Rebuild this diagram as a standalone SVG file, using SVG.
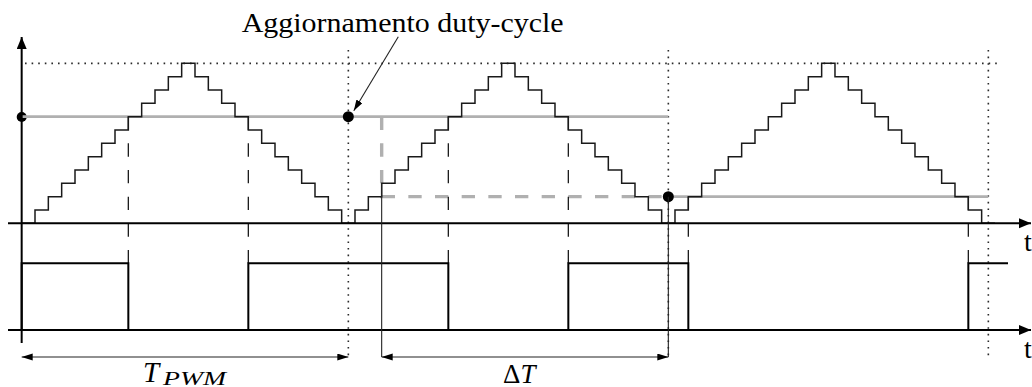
<svg xmlns="http://www.w3.org/2000/svg" width="1032" height="387" viewBox="0 0 1032 387">
<style>
.dot{stroke:#2a2a2a;stroke-width:1.6;stroke-dasharray:1.6 5;fill:none}
.gray{stroke:#b0b0b0;stroke-width:2.6;fill:none}
.graydash{stroke:#b0b0b0;stroke-width:3.4;fill:none;stroke-dasharray:13.333 13.333}
.stair{stroke:#1a1a1a;stroke-width:1.5;fill:none}
.dash{stroke:#1a1a1a;stroke-width:1.3;fill:none;stroke-dasharray:13.333 13.333}
.axis{stroke:#000;stroke-width:2;fill:none}
.pwm{stroke:#000;stroke-width:2;fill:none}
.thin{stroke:#222;stroke-width:1.1;fill:none}
.txt{font-family:"Liberation Serif","Times New Roman",serif;fill:#000}
</style>
<defs>
<marker id="ax" markerUnits="userSpaceOnUse" markerWidth="14" markerHeight="12" refX="12" refY="5" orient="auto"><path d="M0,0 L12,5 L0,10 Z" fill="#000"/></marker>
<marker id="dim" markerUnits="userSpaceOnUse" markerWidth="12" markerHeight="8" refX="11" refY="3.5" orient="auto-start-reverse"><path d="M0,0 L11,3.5 L0,7 Z" fill="#000"/></marker>
</defs>

<g id="guides">
<path class="dot" d="M25,63.33 H1000"/>
<path class="dot" d="M348.33,50 V357"/>
<path class="dot" d="M668.33,50 V357"/>
<path class="dot" d="M988.33,50 V357"/>
</g>

<circle id="dot-axis" cx="21.7" cy="117" r="5" fill="#000"/>

<g id="compare">
<path class="gray" d="M22,116.67 H668.33"/>
<path class="graydash" d="M381.67,116.67 V196.67 H668.33"/>
<path class="gray" d="M668.33,196.67 H988.33"/>
</g>

<g id="staircase">
<path class="stair" d="M21.67,223.33 h13.333
v-13.333h13.333v-13.333h13.333v-13.333h13.333v-13.333h13.333v-13.333h13.333v-13.333h13.333v-13.333h13.333v-13.333h13.333v-13.333h13.333v-13.333h13.333v-13.333h13.333v-13.333h13.333
v13.333h13.333v13.333h13.333v13.333h13.333v13.333h13.333v13.333h13.333v13.333h13.333v13.333h13.333v13.333h13.333v13.333h13.333v13.333h13.333v13.333h13.333v13.333h13.333
v-13.333h13.333v-13.333h13.333v-13.333h13.333v-13.333h13.333v-13.333h13.333v-13.333h13.333v-13.333h13.333v-13.333h13.333v-13.333h13.333v-13.333h13.333v-13.333h13.333v-13.333h13.333
v13.333h13.333v13.333h13.333v13.333h13.333v13.333h13.333v13.333h13.333v13.333h13.333v13.333h13.333v13.333h13.333v13.333h13.333v13.333h13.333v13.333h13.333v13.333h13.333
v-13.333h13.333v-13.333h13.333v-13.333h13.333v-13.333h13.333v-13.333h13.333v-13.333h13.333v-13.333h13.333v-13.333h13.333v-13.333h13.333v-13.333h13.333v-13.333h13.333v-13.333h13.333
v13.333h13.333v13.333h13.333v13.333h13.333v13.333h13.333v13.333h13.333v13.333h13.333v13.333h13.333v13.333h13.333v13.333h13.333v13.333h13.333v13.333h13.333v13.333h13.333"/>
</g>

<g id="edges">
<path class="dash" d="M128.33,116.67 V263.33"/>
<path class="dash" d="M248.33,116.67 V263.33"/>
<path class="dash" d="M448.33,116.67 V263.33"/>
<path class="dash" d="M568.33,116.67 V263.33"/>
<path class="dash" d="M688.33,196.67 V263.33"/>
<path class="dash" d="M968.33,196.67 V263.33"/>
</g>

<g id="axes">
<path class="axis" d="M8,223.33 H1031" marker-end="url(#ax)"/>
<path class="axis" d="M8,330 H1031" marker-end="url(#ax)"/>
<path class="axis" d="M21.67,343 V37" marker-end="url(#ax)"/>
</g>

<g id="pwm">
<path class="pwm" d="M21.67,330 V263.33 H128.33 V330 H248.33 V263.33 H448.33 V330 H568.33 V263.33 H688.33 V330 H968.33 V263.33 H1008"/>
</g>

<g id="markers">
<circle cx="348.33" cy="116.67" r="5.5" fill="#000"/>
<circle cx="668.33" cy="196.67" r="5.5" fill="#000"/>
</g>

<g id="connectors">
<path class="thin" d="M398.3,36.7 L353.8,110.8" marker-end="url(#dim)"/>
<path class="thin" d="M381.67,183.33 V357"/>
<path class="thin" d="M668.33,196.67 V357"/>
<path class="thin" d="M21.67,357 H348.33" marker-start="url(#dim)" marker-end="url(#dim)"/>
<path class="thin" d="M381.67,357 H668.33" marker-start="url(#dim)" marker-end="url(#dim)"/>
</g>

<g id="labels">
<text class="txt" x="241.7" y="31.5" font-size="27" textLength="322" lengthAdjust="spacingAndGlyphs">Aggiornamento duty-cycle</text>
<text class="txt" x="1024" y="251" font-size="28">t</text>
<text class="txt" x="1024" y="358" font-size="28">t</text>
<text class="txt" x="143" y="382" font-size="29" font-style="italic">T</text>
<text class="txt" x="163" y="385" font-size="19" font-style="italic" textLength="63" lengthAdjust="spacingAndGlyphs">PWM</text>
<text class="txt" x="503" y="383" font-size="27">Δ<tspan font-style="italic">T</tspan></text>
</g>
</svg>
